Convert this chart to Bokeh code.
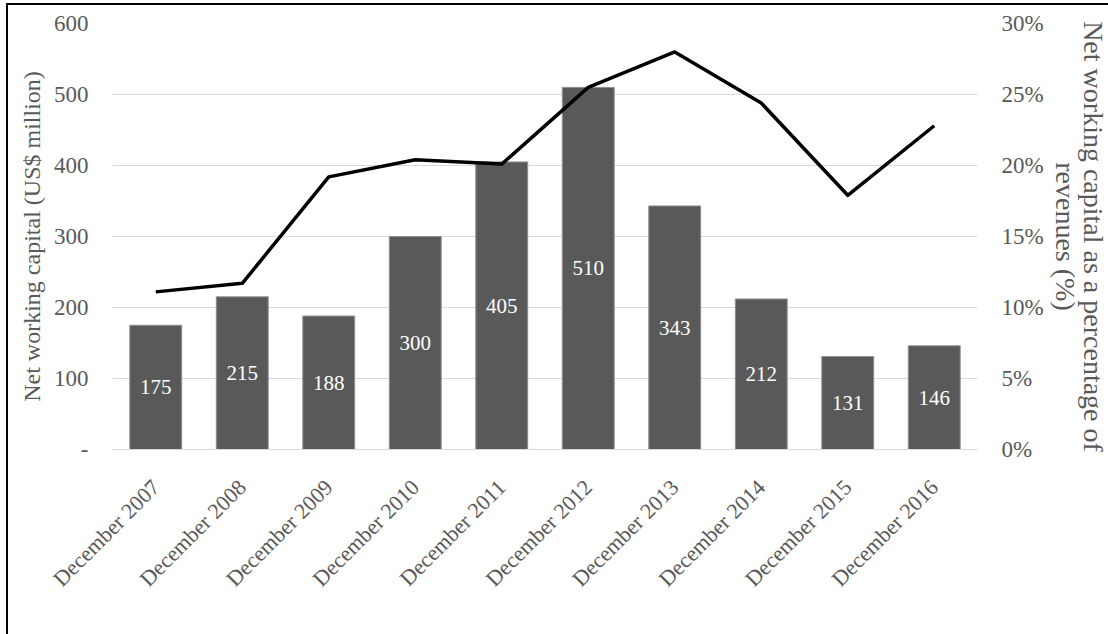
from bokeh.plotting import figure
from bokeh.models import (ColumnDataSource, Range1d, LinearAxis, SingleIntervalTicker,
                          FixedTicker, NumeralTickFormatter, Legend, LegendItem, FactorRange)
from bokeh.embed import file_html
from bokeh.resources import INLINE
from math import pi

categories = ["December 2007", "December 2008", "December 2009", "December 2010",
              "December 2011", "December 2012", "December 2013", "December 2014",
              "December 2015", "December 2016"]
nwc = [175, 215, 188, 300, 405, 510, 343, 212, 131, 146]
nwc_pct = [0.111, 0.117, 0.192, 0.204, 0.201, 0.255, 0.280, 0.244, 0.179, 0.228]
left_ticks_interval = 100
right_ticks = [0.0, 0.05, 0.10, 0.15, 0.20, 0.25, 0.30]

FONT = "Liberation Serif"
GREY = "#595959"

src = ColumnDataSource(dict(
    cat=categories,
    nwc=nwc,
    mid=[v / 2 for v in nwc],
    lab=[str(v) for v in nwc],
    pct=nwc_pct,
))

p = figure(frame_width=865, frame_height=426, x_range=FactorRange(*categories),
           y_range=Range1d(0, 600), output_backend="svg", toolbar_location=None,
           min_border_left=104, min_border_top=18, min_border_right=131,
           min_border_bottom=0)
p.styles = {"border-top": "2px solid black", "border-left": "2px solid black",
            "margin-left": "6px", "margin-top": "3px"}
p.outline_line_color = None
p.extra_y_ranges = {"pct": Range1d(0, 0.30)}

bars = p.vbar(x="cat", top="nwc", width=0.6, source=src,
              fill_color=GREY, line_color="#8f8f8f", line_width=1)
line = p.line(x="cat", y="pct", source=src, y_range_name="pct",
              line_color="black", line_width=3.5, line_join="round")
p.text(x="cat", y="mid", text="lab", source=src, text_color="white",
       text_align="center", text_baseline="middle", text_font=FONT,
       text_font_size="21px")

# left axis
ya = p.yaxis[0]
ya.ticker = SingleIntervalTicker(interval=left_ticks_interval)
ya.major_label_overrides = {0: "-"}
ya.axis_label = "Net working capital (US$ million)"

# right axis
ra = LinearAxis(y_range_name="pct",
                axis_label="Net working capital as a percentage of\nrevenues (%)")
ra.ticker = FixedTicker(ticks=right_ticks)
ra.formatter = NumeralTickFormatter(format="0%")
p.add_layout(ra, "right")

for ax in (ya, ra):
    ax.axis_line_color = None
    ax.major_tick_line_color = None
    ax.minor_tick_line_color = None
    ax.major_label_standoff = 18
    ax.major_label_text_font = FONT
    ax.major_label_text_font_size = "23px"
    ax.major_label_text_color = GREY
    ax.axis_label_text_font = FONT
    ax.axis_label_text_font_style = "normal"
    ax.axis_label_text_color = GREY

ya.axis_label_text_font_size = "24px"
ya.axis_label_standoff = 6
ra.axis_label_text_font_size = "28px"
ra.axis_label_text_line_height = 0.9
ra.axis_label_standoff = 3

xa = p.xaxis[0]
xa.axis_line_color = "#d9d9d9"
xa.major_tick_line_color = None
xa.minor_tick_line_color = None
xa.major_label_orientation = pi / 4
xa.major_label_text_font = FONT
xa.major_label_text_font_size = "22px"
xa.major_label_text_color = GREY
xa.major_label_standoff = 28

p.xgrid.grid_line_color = None
p.ygrid.grid_line_color = "#d9d9d9"
p.ygrid.grid_line_width = 1

legend = Legend(items=[LegendItem(label="Net working capital (NWC)", renderers=[bars]),
                       LegendItem(label="NWC as a % of revenue", renderers=[line])],
                orientation="horizontal", location="top_center",
                border_line_color=None, background_fill_alpha=0,
                glyph_width=48, glyph_height=10, label_standoff=3, spacing=80,
                label_text_font=FONT, label_text_font_size="21.5px",
                label_text_color="#404040", margin=0, padding=0)
p.add_layout(legend, "below")

open("out.html", "w").write(file_html(p, INLINE))
